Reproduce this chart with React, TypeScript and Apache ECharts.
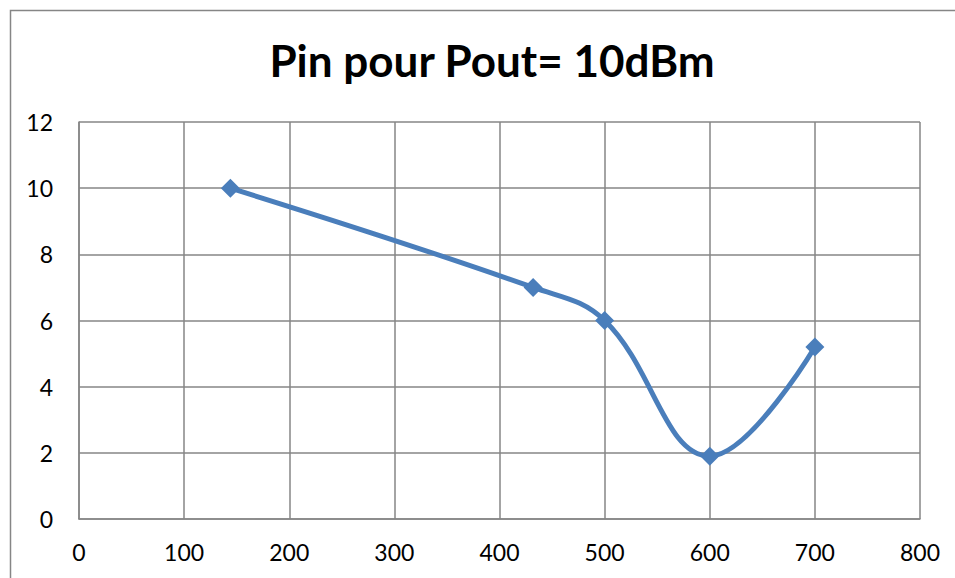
import React, { useEffect, useRef } from "react";
import * as echarts from "echarts";

const titleText = "Pin pour Pout= 10dBm";
const xValues = [144, 432, 500, 600, 700];
const yValues = [10, 7, 6, 1.9, 5.2];

export default function App() {
  const ref = useRef<HTMLDivElement>(null);
  useEffect(() => {
    if (!ref.current) return;
    const chart = echarts.init(ref.current, null, { renderer: "svg" });
    chart.setOption({
      animation: false,
      backgroundColor: "#ffffff",
      title: {
        text: titleText,
        left: 487,
        top: 33,
        textAlign: "center",
        textStyle: { fontFamily: "Lato", fontWeight: "bold", fontSize: 44, color: "#000000" },
      },
      graphic: [
        {
          type: "rect",
          shape: { x: 10.5, y: 10.5, width: 1000, height: 1000 },
          style: { fill: "none", stroke: "#868686", lineWidth: 1.5 },
          silent: true,
        },
      ],
      grid: { left: 79, right: 35, top: 122, bottom: 59, containLabel: false },
      xAxis: {
        type: "value",
        min: 0,
        max: 800,
        interval: 100,
        axisLine: { show: true, lineStyle: { color: "#868686", width: 1.5 } },
        axisTick: { show: false },
        splitLine: { show: true, lineStyle: { color: "#868686", width: 1.5 } },
        axisLabel: { color: "#000000", fontFamily: "Lato", fontSize: 23, margin: 21 },
      },
      yAxis: {
        type: "value",
        min: 0,
        max: 12,
        interval: 2,
        axisLine: { show: true, lineStyle: { color: "#868686", width: 1.5 } },
        axisTick: { show: false },
        splitLine: { show: true, lineStyle: { color: "#868686", width: 1.5 } },
        axisLabel: { color: "#000000", fontFamily: "Lato", fontSize: 23, margin: 26 },
      },
      series: [
        {
          type: "line",
          data: xValues.map((x, i) => [x, yValues[i]]),
          smooth: 0.4,
          symbol: "diamond",
          symbolSize: 19,
          lineStyle: { color: "#4a7ebb", width: 5 },
          itemStyle: { color: "#4a7ebb" },
        },
      ],
    });
    return () => chart.dispose();
  }, []);
  return (
    <div
      ref={ref}
      style={{ position: "fixed", left: 0, top: 0, width: 955, height: 578 }}
    />
  );
}
